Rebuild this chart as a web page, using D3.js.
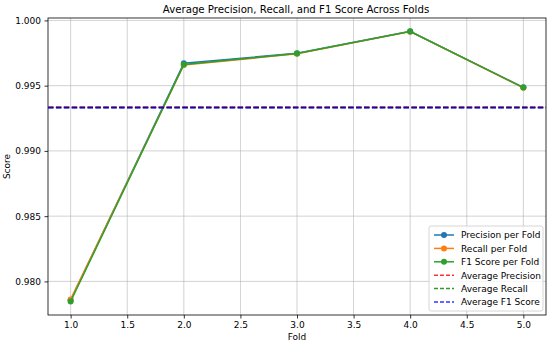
<!DOCTYPE html>
<html>
<head>
<meta charset="utf-8">
<script src="https://cdn.jsdelivr.net/npm/d3@7"></script>
<style>
body { margin: 0; background: #fff; }
text { font-family: "DejaVu Sans", sans-serif; }
</style>
</head>
<body>
<div id="chart"></div>
<script>
var folds = [1, 2, 3, 4, 5];
var precision = [0.97856, 0.99672, 0.99748, 0.99917, 0.99487];
var recall = [0.97862, 0.99658, 0.99744, 0.99914, 0.99484];
var f1 = [0.97846, 0.99662, 0.99746, 0.99915, 0.99485];
var xTicks = [1.0, 1.5, 2.0, 2.5, 3.0, 3.5, 4.0, 4.5, 5.0];
var yTicks = [0.980, 0.985, 0.990, 0.995, 1.000];

var avgP = d3.mean(precision), avgR = d3.mean(recall), avgF = d3.mean(f1);

var W = 550, H = 345;
var pLeft = 48, pRight = 546, pTop = 18, pBottom = 315;

var svg = d3.select("#chart").append("svg")
  .attr("width", W)
  .attr("height", H);

var x = d3.scaleLinear().domain([0.8, 5.2]).range([pLeft, pRight]);
var y = d3.scaleLinear().domain([0.977425, 1.000185]).range([pBottom, pTop]);

// grid
svg.append("g").selectAll("line").data(xTicks).enter().append("line")
  .attr("x1", d => x(d)).attr("x2", d => x(d))
  .attr("y1", pTop).attr("y2", pBottom)
  .attr("stroke", "#b0b0b0").attr("stroke-width", 0.8).attr("opacity", 0.7);
svg.append("g").selectAll("line").data(yTicks).enter().append("line")
  .attr("x1", pLeft).attr("x2", pRight)
  .attr("y1", d => y(d)).attr("y2", d => y(d))
  .attr("stroke", "#b0b0b0").attr("stroke-width", 0.8).attr("opacity", 0.7);

// axes
var xAxis = svg.append("g")
  .attr("transform", "translate(0," + pBottom + ")")
  .call(d3.axisBottom(x).tickValues(xTicks).tickFormat(d3.format(".1f")).tickSize(3.5).tickPadding(3.5));
var yAxis = svg.append("g")
  .attr("transform", "translate(" + pLeft + ",0)")
  .call(d3.axisLeft(y).tickValues(yTicks).tickFormat(d3.format(".3f")).tickSize(3.5).tickPadding(3.5));
[xAxis, yAxis].forEach(function(a) {
  a.select(".domain").remove();
  a.selectAll("text").style("font-size", "9px").attr("fill", "#000")
    .style("font-family", "DejaVu Sans");
  a.selectAll("line").attr("stroke", "#000").attr("stroke-width", 0.8);
});

// frame
svg.append("rect")
  .attr("x", pLeft).attr("y", pTop)
  .attr("width", pRight - pLeft).attr("height", pBottom - pTop)
  .attr("fill", "none").attr("stroke", "#000").attr("stroke-width", 0.8);

svg.append("clipPath").attr("id", "clip").append("rect")
  .attr("x", pLeft).attr("y", pTop).attr("width", pRight - pLeft).attr("height", pBottom - pTop);

var plot = svg.append("g").attr("clip-path", "url(#clip)");

var line = d3.line().x((d, i) => x(folds[i])).y(d => y(d));

var series = [
  { name: "Precision per Fold", values: precision, color: "#1f77b4" },
  { name: "Recall per Fold", values: recall, color: "#ff7f0e" },
  { name: "F1 Score per Fold", values: f1, color: "#2ca02c" }
];
series.forEach(function(s) {
  plot.append("path").datum(s.values)
    .attr("d", line).attr("fill", "none")
    .attr("stroke", s.color).attr("stroke-width", 1.5);
  plot.selectAll(null).data(s.values).enter().append("circle")
    .attr("cx", (d, i) => x(folds[i])).attr("cy", d => y(d))
    .attr("r", 3).attr("fill", s.color);
});

var avgs = [
  { name: "Average Precision", value: avgP, color: "red" },
  { name: "Average Recall", value: avgR, color: "green" },
  { name: "Average F1 Score", value: avgF, color: "blue" }
];
avgs.forEach(function(a) {
  plot.append("line")
    .attr("x1", pLeft).attr("x2", pRight)
    .attr("y1", y(a.value)).attr("y2", y(a.value))
    .attr("stroke", a.color).attr("stroke-width", 1.5)
    .attr("stroke-dasharray", "5.5,2.4");
});

// title and labels
svg.append("text")
  .text("Average Precision, Recall, and F1 Score Across Folds")
  .attr("x", (pLeft + pRight) / 2 - 1).attr("y", 13)
  .attr("text-anchor", "middle").style("font-size", "10.2px");
svg.append("text")
  .text("Fold")
  .attr("x", (pLeft + pRight) / 2).attr("y", 340)
  .attr("text-anchor", "middle").style("font-size", "9px");
svg.append("text")
  .text("Score")
  .attr("transform", "translate(10," + ((pTop + pBottom) / 2) + ") rotate(-90)")
  .attr("text-anchor", "middle").style("font-size", "9px");

// legend
var lg = svg.append("g").attr("transform", "translate(429,226)");
lg.append("rect")
  .attr("width", 114).attr("height", 85).attr("rx", 2)
  .attr("fill", "#fff").attr("fill-opacity", 0.8)
  .attr("stroke", "#ccc").attr("stroke-width", 0.8);
var items = series.map(s => ({ name: s.name, color: s.color, marker: true }))
  .concat(avgs.map(a => ({ name: a.name, color: a.color, marker: false })));
items.forEach(function(it, i) {
  var yy = 9 + i * 13.4;
  var g = lg.append("g").attr("transform", "translate(0," + yy + ")");
  g.append("line").attr("x1", 5).attr("x2", 25)
    .attr("stroke", it.color).attr("stroke-width", 1.5)
    .attr("stroke-dasharray", it.marker ? null : "4,2")
    .attr("opacity", it.marker ? 1 : 0.8);
  if (it.marker) g.append("circle").attr("cx", 15).attr("r", 3).attr("fill", it.color);
  g.append("text").text(it.name).attr("x", 32).attr("y", 3.3)
    .style("font-size", "9px");
});
</script>
</body>
</html>
